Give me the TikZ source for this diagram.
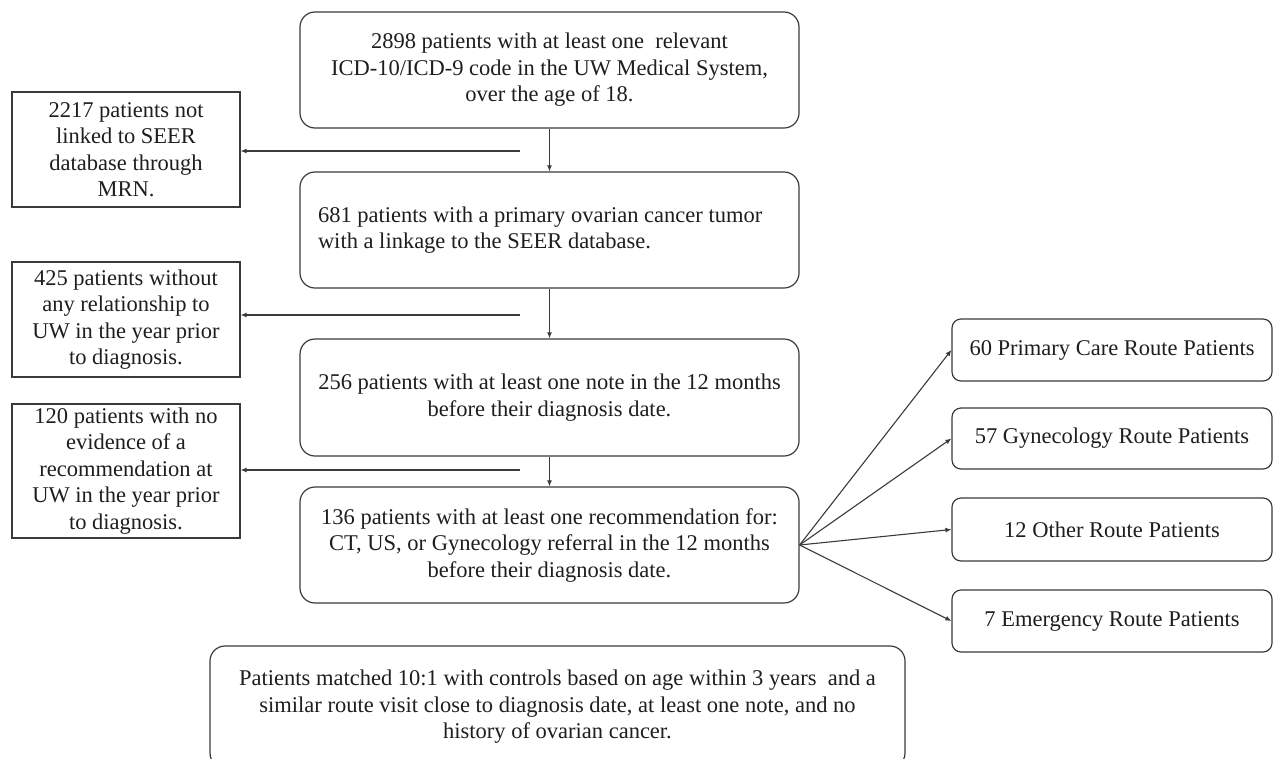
\documentclass[tikz,border=0pt]{standalone}
\usepackage{fontspec}
\setmainfont{Liberation Serif}
\usetikzlibrary{arrows.meta}
\definecolor{linec}{HTML}{3A3A3A}
\definecolor{txtc}{HTML}{1E1E1E}
\begin{document}
\begin{tikzpicture}[x=1pt,y=-1pt,
  basebox/.style={draw=linec, line width=1.2pt, inner sep=0pt, text=txtc,
    font=\fontsize{22.5}{26.5}\selectfont},
  mainbox/.style={basebox, rounded corners=15pt, minimum width=499pt, align=center},
  sidebox/.style={basebox, minimum width=228pt, align=center},
  routebox/.style={basebox, rounded corners=9pt, minimum width=320pt, align=center},
  arr/.style={draw=linec, line width=1.1pt, -{Latex[length=6pt,width=5pt]}}
]
\useasboundingbox (0,0) rectangle (1277,758);
\clip (0,0) rectangle (1277,758);

% main column
\node[mainbox, minimum height=116pt] (b1) at (549.5,70)
  {2898 patients with at least one \ relevant\\ICD-10/ICD-9 code in the UW Medical System,\\over the age of 18.};
\node[mainbox, minimum height=116pt, text width=463pt, align=flush left] (b2) at (549.5,230)
  {681 patients with a primary ovarian cancer tumor\\with a linkage to the SEER database.};
\node[mainbox, minimum height=117pt] (b3) at (549.5,397.5)
  {256 patients with at least one note in the 12 months\\before their diagnosis date.};
\node[mainbox, minimum height=116pt] (b4) at (549.5,545)
  {136 patients with at least one recommendation for:\\CT, US, or Gynecology referral in the 12 months\\before their diagnosis date.};
\node[mainbox, minimum width=695pt, minimum height=122pt] (b5) at (557.5,707)
  {Patients matched 10:1 with controls based on age within 3 years \ and a\\similar route visit close to diagnosis date, at least one note, and no\\history of ovarian cancer.};

% left column
\node[sidebox, minimum height=115pt] (l1) at (126,149.5)
  {2217 patients not\\linked to SEER\\database through\\MRN.};
\node[sidebox, minimum height=115pt] (l2) at (126,319.5)
  {425 patients without\\any relationship to\\UW in the year prior\\to diagnosis.};
\node[sidebox, minimum height=134pt] (l3) at (126,471)
  {120 patients with no\\evidence of a\\recommendation at\\UW in the year prior\\to diagnosis.};

% right column
\node[routebox, minimum height=62pt] (r1) at (1112,350) {60 Primary Care Route Patients};
\node[routebox, minimum height=61pt] (r2) at (1112,438.5) {57 Gynecology Route Patients};
\node[routebox, minimum height=63pt] (r3) at (1112,529.5) {12 Other Route Patients};
\node[routebox, minimum height=62pt] (r4) at (1112,621) {7 Emergency Route Patients};

% vertical connectors
\draw[arr] (b1.south) -- (b2.north);
\draw[arr] (b2.south) -- (b3.north);
\draw[arr] (b3.south) -- (b4.north);

% exclusion connectors
\coordinate (h1) at (520,151);
\coordinate (h2) at (520,315);
\coordinate (h3) at (520,470);
\draw[arr] (h1) -- (h1 -| l1.east);
\draw[arr] (h2) -- (h2 -| l2.east);
\draw[arr] (h3) -- (h3 -| l3.east);

% fan to routes
\draw[arr] (b4.east) -- (r1.west);
\draw[arr] (b4.east) -- (r2.west);
\draw[arr] (b4.east) -- (r3.west);
\draw[arr] (b4.east) -- (r4.west);
\end{tikzpicture}
\end{document}
